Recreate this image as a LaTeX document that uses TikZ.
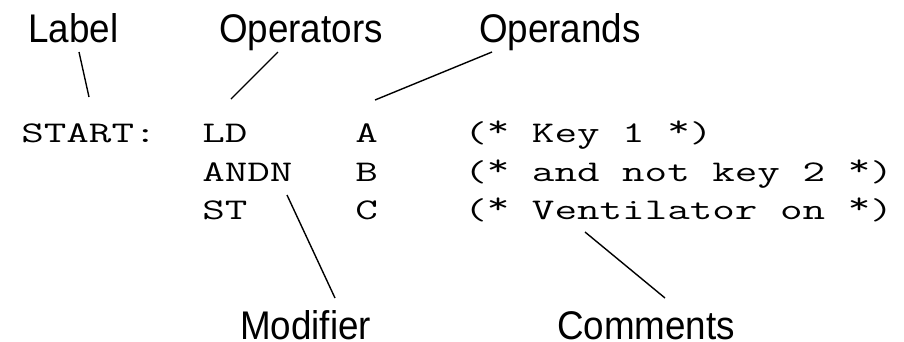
\documentclass[tikz,border=0pt]{standalone}
\usepackage{fontspec}
\setmainfont{Liberation Sans}
% raised asterisk for the comment delimiters
\newcommand\hiast{\raisebox{0.17em}{*}}
\begin{document}
\begin{tikzpicture}[x=1pt,y=-1pt,
  caption/.style={anchor=base west,inner sep=0pt,xscale=0.92,text depth=0pt,
    font=\fontsize{40}{40}\selectfont},
  code/.style={anchor=base west,inner sep=0pt,xscale=1.46,
    font=\ttfamily\fontsize{30}{30}\selectfont},
  leader/.style={line width=1.4pt}]
\useasboundingbox (0,0) rectangle (904,341);
% captions
\node[caption] (label)     at (28,42)  {Label};
\node[caption] (operators) at (219,42) {Operators};
\node[caption] (operands)  at (479,42) {Operands};
\node[caption] (modifier)  at (240,339) {Modifier};
\node[caption] (comments)  at (557,339) {Comments};
% program text
\node[code] (start) at (21,142) {START:};
\node[code] (ld)    at (202,142) {LD};
\node[code] (opA)   at (355,142) {A};
\node[code] (cm1)   at (464,142) {(\hiast{} Key 1 \hiast)};
\node[code] (andn)  at (202,181) {ANDN};
\node[code] (opB)   at (355,181) {B};
\node[code] (cm2)   at (464,181) {(\hiast{} and not key 2 \hiast)};
\node[code] (st)    at (202,219) {ST};
\node[code] (opC)   at (355,219) {C};
\node[code] (cm3)   at (464,219) {(\hiast{} Ventilator on \hiast)};
% leader line end points
\coordinate (labelL) at (79,52);   \coordinate (startL) at (89,97);
\coordinate (operL)  at (278,52);  \coordinate (ldL)    at (231,99);
\coordinate (opndL)  at (492,52);  \coordinate (opAL)   at (375,100);
\coordinate (andnL)  at (287,195); \coordinate (modL)   at (335,298);
\coordinate (cm3L)   at (585,232); \coordinate (comL)   at (665,298);
\draw[leader] (labelL) -- (startL);
\draw[leader] (operL) -- (ldL);
\draw[leader] (opndL) -- (opAL);
\draw[leader] (andnL) -- (modL);
\draw[leader] (cm3L) -- (comL);
\end{tikzpicture}
\end{document}
